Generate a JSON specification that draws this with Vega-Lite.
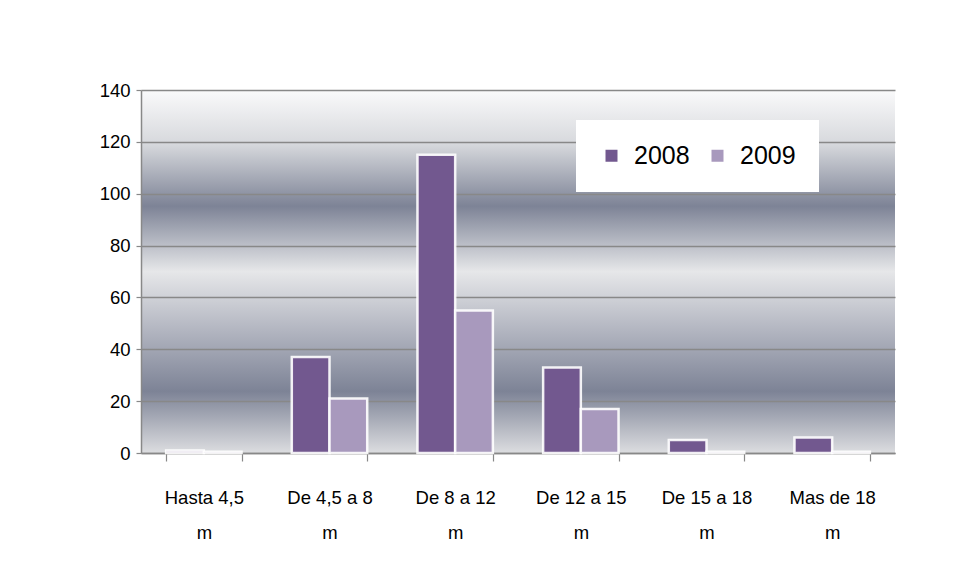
{
  "$schema": "https://vega.github.io/schema/vega-lite/v6.json",
  "autosize": {"type": "none"},
  "padding": {"left": 141, "top": 90, "right": 59, "bottom": 125},
  "width": 754,
  "height": 363,
  "background": "white",
  "data": {"values": [
    {"cat": "Hasta 4,5 m", "year": "2008", "value": 1},
    {"cat": "Hasta 4,5 m", "year": "2009", "value": 0.5},
    {"cat": "De 4,5 a 8 m", "year": "2008", "value": 37},
    {"cat": "De 4,5 a 8 m", "year": "2009", "value": 21},
    {"cat": "De 8 a 12 m", "year": "2008", "value": 115},
    {"cat": "De 8 a 12 m", "year": "2009", "value": 55},
    {"cat": "De 12 a 15 m", "year": "2008", "value": 33},
    {"cat": "De 12 a 15 m", "year": "2009", "value": 17},
    {"cat": "De 15 a 18 m", "year": "2008", "value": 5},
    {"cat": "De 15 a 18 m", "year": "2009", "value": 0.5},
    {"cat": "Mas de 18 m", "year": "2008", "value": 6},
    {"cat": "Mas de 18 m", "year": "2009", "value": 0.5}
  ]},
  "mark": {"type": "bar", "stroke": "white", "strokeWidth": 2.5, "strokeOpacity": 0.9},
  "encoding": {
    "x": {
      "field": "cat", "type": "nominal", "sort": null, "title": null,
      "scale": {"paddingInner": 0.4, "paddingOuter": 0.2},
      "axis": {
        "labelAngle": 0, "tickBand": "extent",
        "labelExpr": "datum.label ? [slice(datum.label, 0, lastindexof(datum.label, ' ')), 'm'] : ''",
        "labelLineHeight": 35, "labelPadding": 36, "tickSize": 8, "labelBaseline": "middle"
      }
    },
    "xOffset": {"field": "year", "type": "nominal"},
    "y": {
      "field": "value", "type": "quantitative", "title": null,
      "scale": {"domain": [0, 140]},
      "axis": {"values": [0, 20, 40, 60, 80, 100, 120, 140], "tickSize": 5, "labelPadding": 6, "grid": true}
    },
    "color": {
      "field": "year", "type": "nominal", "title": null,
      "scale": {"domain": ["2008", "2009"], "range": ["#72588f", "#a899bd"]},
      "legend": {
        "orient": "none", "legendX": 435, "legendY": 30, "direction": "horizontal",
        "fillColor": "white", "padding": 23, "symbolType": "square", "symbolSize": 144,
        "symbolStrokeWidth": 0, "labelFontSize": 25, "labelFont": "Liberation Sans",
        "columnPadding": 15, "labelOffset": 10, "labelColor": "black"
      }
    }
  },
  "config": {
    "view": {
      "stroke": null,
      "fill": {
        "gradient": "linear", "x1": 0, "y1": 0, "x2": 0, "y2": 1,
        "stops": [
          {"offset": 0, "color": "#fafafb"},
          {"offset": 0.15, "color": "#d6d8dc"},
          {"offset": 0.32, "color": "#7d8396"},
          {"offset": 0.5, "color": "#e6e7e9"},
          {"offset": 0.66, "color": "#b3b6c1"},
          {"offset": 0.83, "color": "#7d8396"},
          {"offset": 1, "color": "#dcdde0"}
        ]
      }
    },
    "axis": {
      "labelFont": "Liberation Sans", "labelFontSize": 18.5, "labelColor": "black",
      "domainColor": "#888888", "domainWidth": 1.5, "tickColor": "#888888", "tickWidth": 1.2,
      "gridColor": "#888888", "gridWidth": 1.5, "gridOpacity": 1
    }
  }
}
